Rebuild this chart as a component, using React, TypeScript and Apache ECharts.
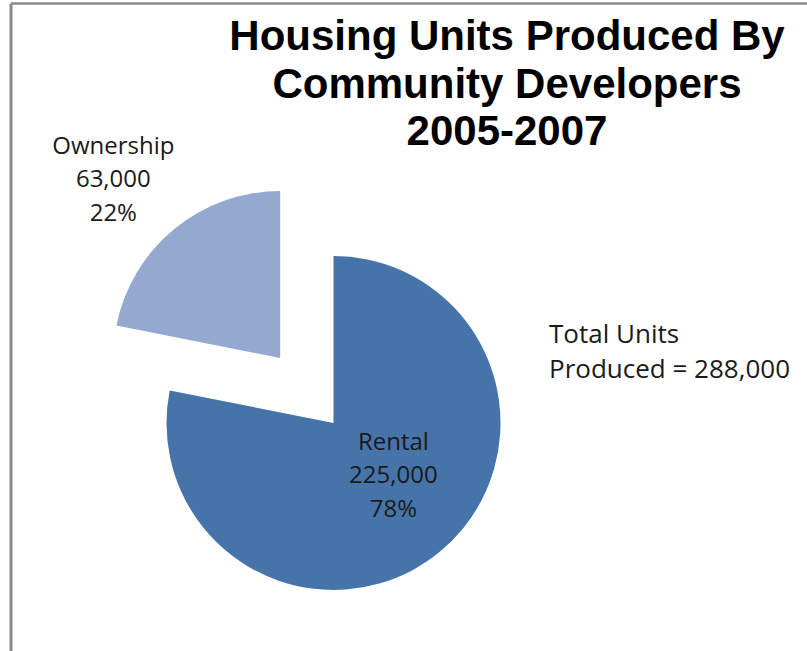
import React, { useEffect, useRef } from "react";
import * as echarts from "echarts";

const categories = ["Rental", "Ownership"];
const units = [225000, 63000];
const colors = ["#4674A8", "#95A9D0"];
const titleLines = ["Housing Units Produced By", "Community Developers", "2005-2007"];
const totalLabel = ["Total Units", "Produced = "];

const fmt = (v: number) => v.toLocaleString("en-US");

export default function App() {
  const ref = useRef<HTMLDivElement>(null);
  useEffect(() => {
    if (!ref.current) return;
    const chart = echarts.init(ref.current, null, { renderer: "svg" });
    const total = units.reduce((a, b) => a + b, 0);
    const labelFont = {
      fontFamily: "Open Sans",
      fontSize: 24,
      color: "#1a1a1a",
      lineHeight: 33.5,
      align: "center" as const,
    };
    const offsets = [
      [5, -16],
      [-85, -97],
    ];
    chart.setOption({
      animation: false,
      backgroundColor: "#ffffff",
      title: {
        text: titleLines.join("\n"),
        left: 502,
        top: 7,
        textAlign: "center",
        textStyle: {
          fontFamily: "Liberation Sans",
          fontWeight: "bold",
          fontSize: 42,
          lineHeight: 47.5,
          color: "#000000",
        },
      },
      graphic: [
        { type: "line", shape: { x1: 11, y1: 3.5, x2: 807, y2: 3.5 }, style: { stroke: "#8a8a8a", lineWidth: 2.5 } },
        { type: "line", shape: { x1: 11, y1: 3.5, x2: 11, y2: 651 }, style: { stroke: "#8a8a8a", lineWidth: 3 } },
        {
          type: "text",
          left: 549,
          top: 315,
          style: {
            text: totalLabel[0] + "\n" + totalLabel[1] + fmt(total),
            fontFamily: "Open Sans",
            fontSize: 26,
            lineHeight: 35.5,
            fill: "#1a1a1a",
          },
        },
      ],
      series: [
        {
          type: "pie",
          center: [333.5, 423],
          radius: 167,
          startAngle: 90,
          clockwise: true,
          selectedMode: "single",
          selectedOffset: 84,
          silent: true,
          emphasis: { disabled: true },
          labelLine: { show: false },
          label: {
            ...labelFont,
            formatter: (p: any) => `${p.name}\n${fmt(p.value)}\n${Math.round(p.percent)}%`,
          },
          data: categories.map((name, i) => ({
            name,
            value: units[i],
            selected: i === 1,
            itemStyle: { color: colors[i] },
            label: { position: "inside", offset: offsets[i] },
            select: {
              itemStyle: { color: colors[i] },
              label: { ...labelFont, position: "inside", offset: offsets[i] },
            },
          })),
        },
      ],
    });
    return () => chart.dispose();
  }, []);
  return (
    <div
      ref={ref}
      style={{ position: "fixed", left: 0, top: 0, width: 807, height: 651 }}
    />
  );
}
